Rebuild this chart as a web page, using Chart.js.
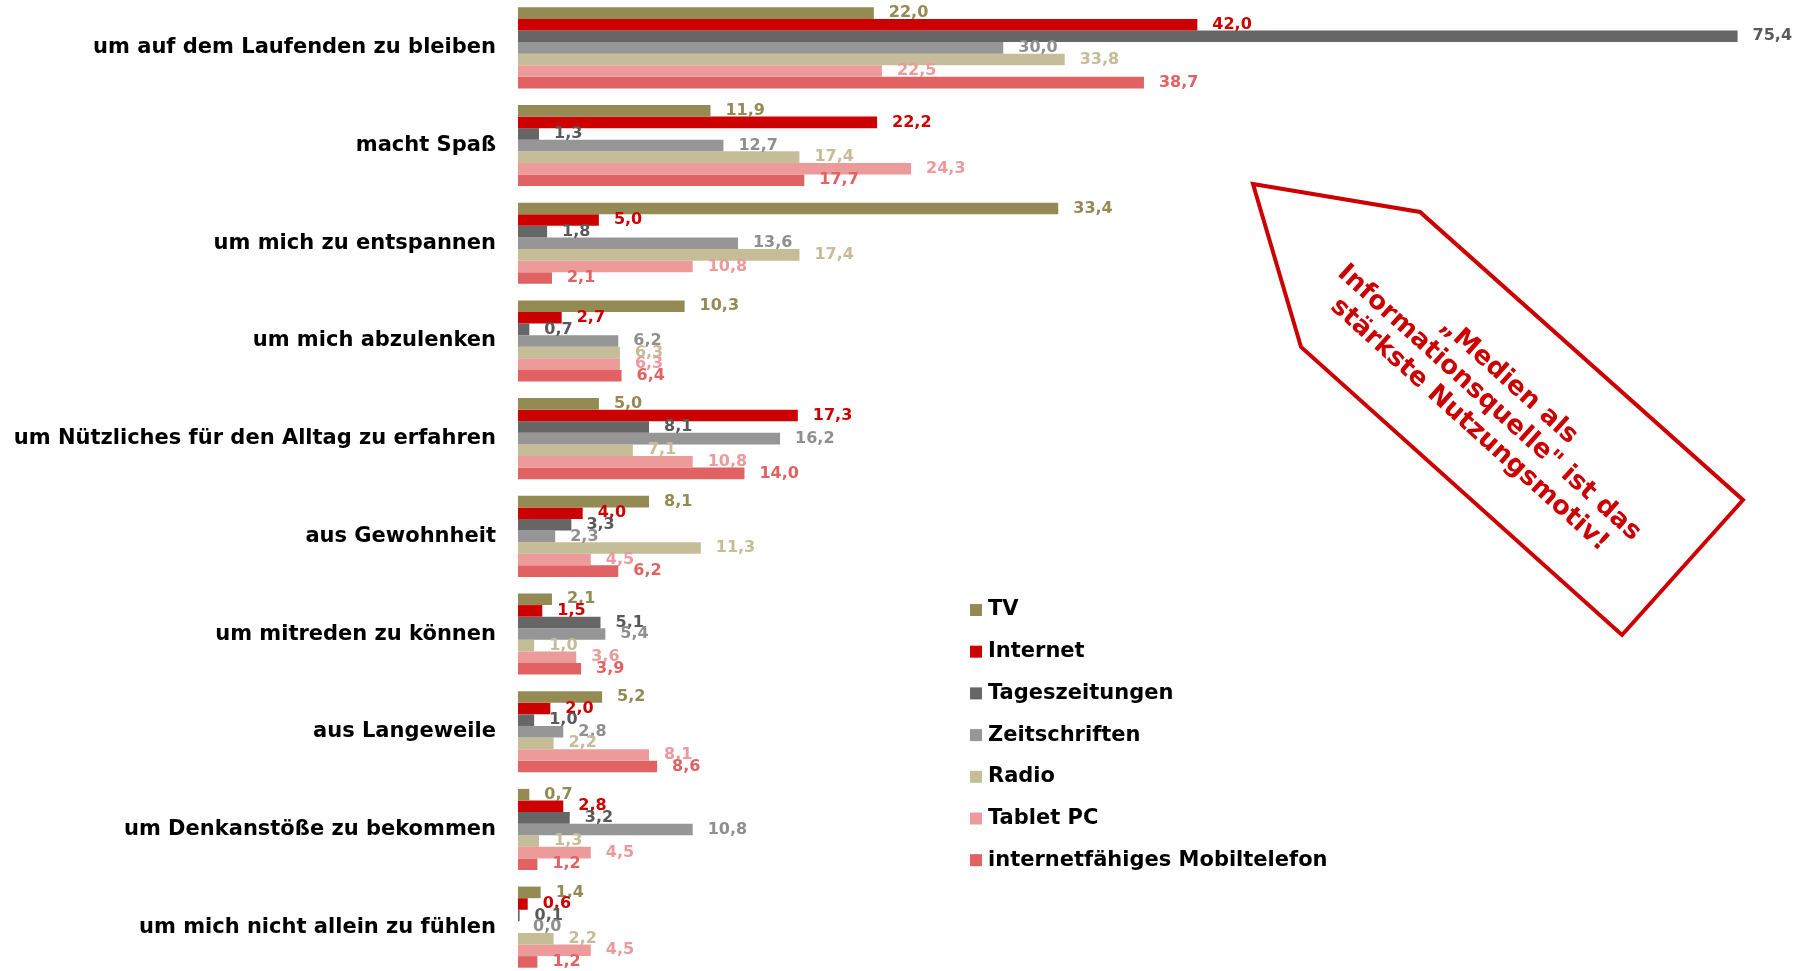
<!DOCTYPE html>
<html>
<head>
<meta charset="utf-8">
<script src="https://cdn.jsdelivr.net/npm/chart.js@4/dist/chart.umd.min.js"></script>
<style>
    html, body { margin: 0; padding: 0; background: #fff; overflow: hidden; }
    #wrap { position: absolute; left: 0; top: -1px; width: 1812px; height: 977px; }
</style>
</head>
<body>
<div id="wrap"><canvas id="motivChart" width="1812" height="977"></canvas></div>
<script>
// 카테고리 / 시리즈 데이터
var categories = [
    'um auf dem Laufenden zu bleiben',
    'macht Spaß',
    'um mich zu entspannen',
    'um mich abzulenken',
    'um Nützliches für den Alltag zu erfahren',
    'aus Gewohnheit',
    'um mitreden zu können',
    'aus Langeweile',
    'um Denkanstöße zu bekommen',
    'um mich nicht allein zu fühlen'
];
var seriesNames = ['TV', 'Internet', 'Tageszeitungen', 'Zeitschriften', 'Radio', 'Tablet PC', 'internetfähiges Mobiltelefon'];
var tvValues       = [22.0, 11.9, 33.4, 10.3, 5.0, 8.1, 2.1, 5.2, 0.7, 1.4];
var internetValues = [42.0, 22.2, 5.0, 2.7, 17.3, 4.0, 1.5, 2.0, 2.8, 0.6];
var zeitungValues  = [75.4, 1.3, 1.8, 0.7, 8.1, 3.3, 5.1, 1.0, 3.2, 0.1];
var zeitschrValues = [30.0, 12.7, 13.6, 6.2, 16.2, 2.3, 5.4, 2.8, 10.8, 0.0];
var radioValues    = [33.8, 17.4, 17.4, 6.3, 7.1, 11.3, 1.0, 2.2, 1.3, 2.2];
var tabletValues   = [22.5, 24.3, 10.8, 6.3, 10.8, 4.5, 3.6, 8.1, 4.5, 4.5];
var mobilValues    = [38.7, 17.7, 2.1, 6.4, 14.0, 6.2, 3.9, 8.6, 1.2, 1.2];
var calloutLines = ['„Medien als', 'Informationsquelle" ist das', 'stärkste Nutzungsmotiv!'];

var barColors   = ['#948A54', '#CC0000', '#666666', '#969696', '#C4BD97', '#EC9A9A', '#E06262'];
var labelColors = ['#948A54', '#CC0000', '#595959', '#8F8F8F', '#C4BD97', '#EC9A9A', '#E06262'];
var FONT = '"DejaVu Sans", Verdana, sans-serif';

var allValues = [tvValues, internetValues, zeitungValues, zeitschrValues, radioValues, tabletValues, mobilValues];

// 막대 끝 값 라벨
var valueLabels = {
    id: 'valueLabels',
    afterDatasetsDraw: function(chart) {
        var ctx = chart.ctx;
        ctx.save();
        ctx.font = 'bold 16px ' + FONT;
        ctx.textAlign = 'left';
        ctx.textBaseline = 'middle';
        chart.data.datasets.forEach(function(ds, di) {
            var meta = chart.getDatasetMeta(di);
            ctx.fillStyle = labelColors[di];
            meta.data.forEach(function(bar, i) {
                var txt = ds.data[i].toFixed(1).replace('.', ',');
                ctx.fillText(txt, bar.x + 15, bar.y);
            });
        });
        ctx.restore();
    }
};

// 범례 + 말풍선 화살표
var extras = {
    id: 'extras',
    afterDraw: function(chart) {
        var ctx = chart.ctx;
        ctx.save();
        // legend
        ctx.font = 'bold 21px ' + FONT;
        ctx.textBaseline = 'middle';
        ctx.textAlign = 'left';
        seriesNames.forEach(function(name, i) {
            var y = 611 + i * 41.7;
            ctx.fillStyle = barColors[i];
            ctx.fillRect(970, y - 6, 12, 12);
            ctx.fillStyle = '#000';
            ctx.fillText(name, 988, y);
        });

        // callout arrow
        ctx.beginPath();
        ctx.moveTo(1253, 185);
        ctx.lineTo(1420, 213);
        ctx.lineTo(1743, 501);
        ctx.lineTo(1622, 636);
        ctx.lineTo(1301, 348);
        ctx.closePath();
        ctx.lineWidth = 4;
        ctx.lineJoin = 'miter';
        ctx.strokeStyle = '#CC0000';
        ctx.stroke();

        ctx.translate(1489, 404);
        ctx.rotate(42 * Math.PI / 180);
        ctx.fillStyle = '#CC0000';
        ctx.font = 'bold 26px ' + FONT;
        ctx.textAlign = 'center';
        calloutLines.forEach(function(line, i) {
            ctx.fillText(line, 0, (i - 1) * 29.5);
        });
        ctx.restore();
    }
};

var ctx = document.getElementById('motivChart').getContext('2d');
var motivChart = new Chart(ctx, {
    type: 'bar',
    data: {
        labels: categories,
        datasets: seriesNames.map(function(name, i) {
            return {
                label: name,
                data: allValues[i],
                backgroundColor: barColors[i],
                borderWidth: 0,
                barPercentage: 1.0,
                categoryPercentage: 0.83
            };
        })
    },
    options: {
        indexAxis: 'y',
        responsive: false,
        devicePixelRatio: 1,
        animation: false,
        layout: { padding: 0 },
        scales: {
            x: {
                display: false,
                min: 0,
                max: 80
            },
            y: {
                grid: { display: false, drawTicks: false },
                border: { display: false },
                ticks: {
                    color: '#000',
                    padding: 22,
                    font: { family: FONT, size: 21, weight: 'bold' }
                },
                afterFit: function(scale) {
                    scale.width = 518;
                    scale.paddingTop = 0;
                    scale.paddingBottom = 0;
                }
            }
        },
        plugins: {
            legend: { display: false },
            tooltip: { enabled: false }
        }
    },
    plugins: [valueLabels, extras]
});
</script>
</body>
</html>
